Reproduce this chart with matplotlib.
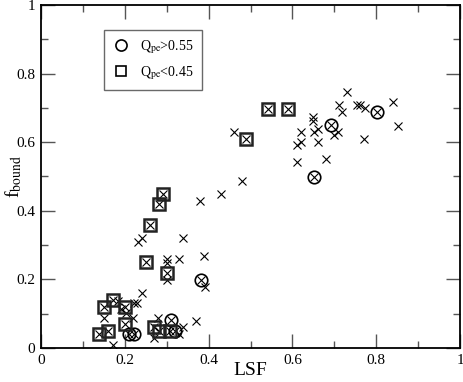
import numpy as np
import matplotlib
matplotlib.use("Agg")
from matplotlib import pyplot as plt
from matplotlib.lines import Line2D

plt.rcParams['font.family'] = ['Liberation Serif', 'DejaVu Serif']
plt.rcParams['mathtext.fontset'] = 'stix'

# Q_pe > 0.55 (circled)
lsf_hi = [0.21, 0.221, 0.31, 0.321, 0.381, 0.651, 0.691, 0.801]
fb_hi = [0.040, 0.040, 0.082, 0.050, 0.199, 0.499, 0.650, 0.689]

# Q_pe < 0.45 (boxed)
lsf_lo = [0.139, 0.160, 0.151, 0.171, 0.201, 0.200, 0.250, 0.261, 0.281, 0.291,
          0.300, 0.270, 0.281, 0.309, 0.490, 0.541, 0.590]
fb_lo = [0.040, 0.050, 0.119, 0.140, 0.119, 0.069, 0.250, 0.360, 0.420, 0.449,
         0.219, 0.060, 0.050, 0.050, 0.608, 0.697, 0.697]

# remaining structures (cross only)
lsf_mid = [0.171, 0.151, 0.183, 0.191, 0.203, 0.220, 0.221, 0.230, 0.241, 0.231,
           0.241, 0.340, 0.300, 0.300, 0.330, 0.390, 0.392, 0.300, 0.280, 0.270,
           0.340, 0.370, 0.330, 0.380, 0.430, 0.480, 0.460, 0.612, 0.681, 0.612,
           0.621, 0.621, 0.661, 0.651, 0.661, 0.650, 0.650, 0.699, 0.709, 0.771,
           0.711, 0.719, 0.731, 0.754, 0.761, 0.773, 0.841, 0.851]
fb_mid = [0.009, 0.088, 0.137, 0.114, 0.101, 0.088, 0.132, 0.132, 0.159, 0.310,
          0.320, 0.320, 0.259, 0.247, 0.259, 0.269, 0.177, 0.198, 0.088, 0.028,
          0.062, 0.080, 0.040, 0.429, 0.449, 0.488, 0.629, 0.541, 0.550, 0.592,
          0.600, 0.629, 0.600, 0.629, 0.638, 0.673, 0.663, 0.621, 0.629, 0.609,
          0.708, 0.689, 0.747, 0.708, 0.708, 0.699, 0.718, 0.648]

fig = plt.figure(figsize=(4.63, 3.82), dpi=100)
ax = fig.add_axes([41/463, 34/382, 419/463, 343/382])

all_x = lsf_mid + lsf_hi + lsf_lo
all_y = fb_mid + fb_hi + fb_lo
ax.plot(all_x, all_y, linestyle="none", marker="x", color="black", markersize=5.5, markeredgewidth=0.8)
ax.plot(lsf_hi, fb_hi, linestyle="none", marker="o", markerfacecolor="none", markeredgecolor="black",
        markersize=9, markeredgewidth=1.2)
ax.plot(lsf_lo, fb_lo, linestyle="none", marker="s", markerfacecolor="none", markeredgecolor="#222222",
        markersize=8, markeredgewidth=1.8)

ax.set_xlim(0, 1)
ax.set_ylim(0, 1)
ax.set_xticks([0, 0.2, 0.4, 0.6, 0.8, 1])
ax.set_xticklabels(["0", "0.2", "0.4", "0.6", "0.8", "1"])
ax.set_yticks([0, 0.2, 0.4, 0.6, 0.8, 1])
ax.set_yticklabels(["0", "0.2", "0.4", "0.6", "0.8", "1"])
ax.set_xticks(np.arange(0.1, 1, 0.2), minor=True)
ax.set_yticks(np.arange(0.1, 1, 0.2), minor=True)
ax.tick_params(which="both", direction="in", top=True, right=True, labelsize=11, color="#555555")
ax.tick_params(which="major", length=10, width=1, pad=4)
ax.tick_params(which="minor", length=5, width=1)
for s in ax.spines.values():
    s.set_linewidth(1.3)

ax.set_xlabel("LSF", fontsize=14)
ax.set_ylabel("f$_{\\rm bound}$", fontsize=14)
ax.xaxis.set_label_coords(0.5, -0.042)
ax.yaxis.set_label_coords(-0.04, 0.5)

handles = [Line2D([], [], linestyle="none", marker="o", markerfacecolor="none", markeredgecolor="black",
                  markersize=8, markeredgewidth=1.2),
           Line2D([], [], linestyle="none", marker="s", markerfacecolor="none", markeredgecolor="black",
                  markersize=7, markeredgewidth=1.2)]
leg = ax.legend(handles, ["Q$_{\\rm pe}$>0.55", "Q$_{\\rm pe}$<0.45"], loc="upper left",
                bbox_to_anchor=(0.15, 0.927), frameon=True, fancybox=False, edgecolor="#444444",
                fontsize=10, handlelength=1.2, handletextpad=0.8, borderpad=0.6, labelspacing=0.6,
                borderaxespad=0)
leg.get_frame().set_linewidth(1.0)

fig.savefig("out.png", dpi=100)
